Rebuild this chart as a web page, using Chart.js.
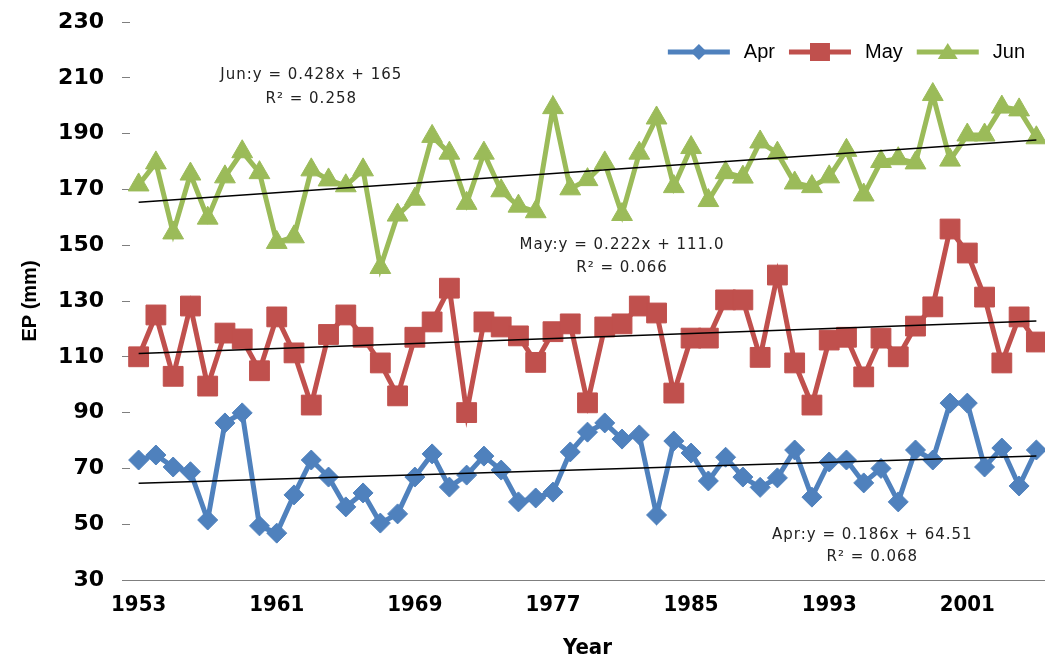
<!DOCTYPE html>
<html>
<head>
<meta charset="utf-8">
<script src="https://cdn.jsdelivr.net/npm/chart.js@4.4.1/dist/chart.umd.min.js"></script>
<style>
  html, body { margin: 0; padding: 0; background: #fff; }
  #wrap { width: 1045px; height: 661px; }
</style>
</head>
<body>
<div id="wrap"><canvas id="chart" width="1045" height="661"></canvas></div>
<script>
// Years on the x axis
const years = ['1953','1954','1955','1956','1957','1958','1959','1960','1961','1962',
  '1963','1964','1965','1966','1967','1968','1969','1970','1971','1972',
  '1973','1974','1975','1976','1977','1978','1979','1980','1981','1982',
  '1983','1984','1985','1986','1987','1988','1989','1990','1991','1992',
  '1993','1994','1995','1996','1997','1998','1999','2000','2001','2002',
  '2003','2004','2005'];

// EP (mm) per month
const aprEP = [73, 74.8, 70.5, 68.8, 51.5, 86.3, 89.9, 49.4, 46.8, 60.5,
  73, 66.9, 56.2, 61.2, 50.4, 53.7, 66.9, 75.2, 63.3, 67.6,
  74.4, 69.4, 58, 59.4, 61.5, 75.9, 83, 86.3, 80.5, 82,
  53.3, 79.8, 75.5, 65.5, 74, 66.9, 63.2, 66.6, 76.6, 59.7,
  72.3, 73, 64.8, 70, 58, 76.6, 73, 93.4, 93.4, 70.5,
  77.3, 63.7, 76.6];
const mayEP = [110, 125, 103, 128.2, 99.5, 118.5, 116.4, 105, 124.3, 111.4,
  92.7, 118, 125, 117, 107.8, 96, 117, 122.5, 134.6, 90,
  122.5, 120.7, 117.5, 108, 119, 121.8, 93.5, 120.7, 121.8, 128.2,
  125.7, 97, 116.7, 116.7, 130.4, 130.4, 109.8, 139.3, 107.8, 92.7,
  116, 117, 102.8, 116.7, 110, 121, 127.9, 155.8, 147.2, 131.4,
  107.8, 124.3, 115.3];
const junEP = [171.6, 179.5, 154.4, 175.5, 159.7, 174.5, 183.5, 176, 151, 153,
  177, 173.4, 171.3, 177, 142, 160.8, 166.5, 189, 183, 165,
  183, 169.5, 164, 162, 199.3, 170.2, 173.5, 179.5, 161, 183,
  195.6, 171, 185, 166, 176, 174.4, 187, 183, 172.3, 171,
  174.5, 184, 168, 180, 181, 179.5, 204, 180.5, 189.5, 189.5,
  199.5, 198.5, 188.5];

// Linear trend end values (first and last year)
const aprTrend = [64.7, 74.4];
const mayTrend = [111.2, 122.8];
const junTrend = [165.4, 187.7];

// Y axis ticks
const yMin = 30, yMax = 230, yStep = 20;

// Trend equation labels
const eqLabels = [
  { text: 'Jun:y = 0.428x + 165', r2: 'R\u00b2 = 0.258', idx: 10, y: 211, y2: 202.4 },
  { text: 'May:y = 0.222x + 111.0', r2: 'R\u00b2 = 0.066', idx: 28, y: 150, y2: 141.8 },
  { text: 'Apr:y = 0.186x + 64.51', r2: 'R\u00b2 = 0.068', idx: 42.5, y: 46, y2: 38.3 }
];

const blue = '#4F81BD', red = '#C0504D', green = '#9BBB59';

function trendData(ends) {
  const arr = years.map(() => null);
  arr[0] = ends[0];
  arr[years.length - 1] = ends[1];
  return arr;
}

// line + marker sample for the legend
function drawLegendIcon(ctx, color, style, cx, cy) {
  ctx.strokeStyle = color;
  ctx.fillStyle = color;
  ctx.lineWidth = 5;
  ctx.beginPath(); ctx.moveTo(cx - 31, cy); ctx.lineTo(cx + 31, cy); ctx.stroke();
  ctx.beginPath();
  if (style === 'rectRot') {
    ctx.moveTo(cx, cy - 8); ctx.lineTo(cx + 8, cy); ctx.lineTo(cx, cy + 8); ctx.lineTo(cx - 8, cy);
  } else if (style === 'rect') {
    ctx.rect(cx - 10, cy - 9, 20, 18);
  } else {
    ctx.moveTo(cx, cy - 9); ctx.lineTo(cx + 10, cy + 7); ctx.lineTo(cx - 10, cy + 7);
  }
  ctx.closePath(); ctx.fill();
}

const legendPlugin = {
  id: 'excelLegend',
  afterDraw(chart) {
    const { ctx, chartArea } = chart;
    const items = [['Apr', blue, 'rectRot'], ['May', red, 'rect'], ['Jun', green, 'triangle']];
    ctx.save();
    ctx.font = '20px "Liberation Sans", Arial, sans-serif';
    ctx.textBaseline = 'middle';
    ctx.textAlign = 'left';
    const y = chartArea.top + 30;
    let total = 0;
    items.forEach(it => { total += 62 + 14 + ctx.measureText(it[0]).width; });
    total += 14 * (items.length - 1);
    let x = chartArea.right - 20 - total;
    items.forEach(it => {
      drawLegendIcon(ctx, it[1], it[2], x + 31, y);
      x += 62 + 14;
      ctx.fillStyle = '#000';
      ctx.fillText(it[0], x, y);
      x += ctx.measureText(it[0]).width + 14;
    });
    ctx.restore();
  }
};

const eqPlugin = {
  id: 'eqText',
  afterDatasetsDraw(chart) {
    const { ctx, scales } = chart;
    ctx.save();
    ctx.font = '15px "DejaVu Sans", sans-serif';
    ctx.letterSpacing = '1px';
    ctx.fillStyle = '#222';
    ctx.textAlign = 'center';
    ctx.textBaseline = 'middle';
    eqLabels.forEach(l => {
      const x = scales.x.getPixelForValue(l.idx);
      ctx.fillText(l.text, x, scales.y.getPixelForValue(l.y));
      ctx.fillText(l.r2, x, scales.y.getPixelForValue(l.y2));
    });
    ctx.restore();
  }
};

const seriesBase = { borderWidth: 5, pointBorderWidth: 1, tension: 0 };

new Chart(document.getElementById('chart'), {
  type: 'line',
  data: {
    labels: years,
    datasets: [
      { ...seriesBase, label: 'Apr', data: aprEP, borderColor: blue, backgroundColor: blue,
        pointStyle: 'rectRot', pointRadius: 10, pointBorderColor: blue, pointBackgroundColor: blue },
      { ...seriesBase, label: 'May', data: mayEP, borderColor: red, backgroundColor: red,
        pointStyle: 'rect', pointRadius: 14, pointBorderColor: red, pointBackgroundColor: red },
      { ...seriesBase, label: 'Jun', data: junEP, borderColor: green, backgroundColor: green,
        pointStyle: 'triangle', pointRadius: 12, pointBorderColor: green, pointBackgroundColor: green },
      { label: 'aprTrend', data: trendData(aprTrend), borderColor: '#000', borderWidth: 1.5, pointRadius: 0, spanGaps: true, order: -1 },
      { label: 'mayTrend', data: trendData(mayTrend), borderColor: '#000', borderWidth: 1.5, pointRadius: 0, spanGaps: true, order: -1 },
      { label: 'junTrend', data: trendData(junTrend), borderColor: '#000', borderWidth: 1.5, pointRadius: 0, spanGaps: true, order: -1 }
    ]
  },
  options: {
    responsive: false,
    animation: false,
    layout: { autoPadding: false, padding: { left: 0, right: 0, top: 22, bottom: 0 } },
    plugins: {
      tooltip: { enabled: false },
      legend: { display: false }
    },
    scales: {
      x: {
        type: 'category',
        offset: true,
        grid: { display: false, drawTicks: false },
        border: { display: true, color: '#7f7f7f', width: 1 },
        ticks: {
          autoSkip: false,
          maxRotation: 0,
          padding: 12,
          color: '#000',
          font: { size: 22, weight: 'bold', family: '"Liberation Sans Narrow", "DejaVu Sans Condensed", sans-serif' },
          callback: (v, i) => (i % 8 === 0 ? years[i] : '')
        },
        title: {
          display: true, text: 'Year', color: '#000', padding: { top: 4, bottom: 0 },
          font: { size: 22, weight: 'bold', family: '"Liberation Sans Narrow", "DejaVu Sans Condensed", sans-serif' }
        },
        afterFit: s => { s.height = 81; s.paddingLeft = 0; s.paddingRight = 0; }
      },
      y: {
        min: yMin, max: yMax,
        grid: { drawOnChartArea: false, drawTicks: true, tickLength: 8, color: '#7f7f7f' },
        border: { display: false },
        ticks: {
          stepSize: yStep,
          padding: 18,
          color: '#000',
          font: { size: 22, weight: 'bold', family: '"DejaVu Sans", sans-serif' }
        },
        title: {
          display: true, text: 'EP (mm)', color: '#000', padding: { top: 18, bottom: 4 },
          font: { size: 20, weight: 'bold', family: '"Liberation Sans", Arial, sans-serif' }
        },
        afterFit: s => { s.width = 130; s.paddingTop = 0; s.paddingBottom = 0; }
      }
    }
  },
  plugins: [eqPlugin, legendPlugin]
});
</script>
</body>
</html>
